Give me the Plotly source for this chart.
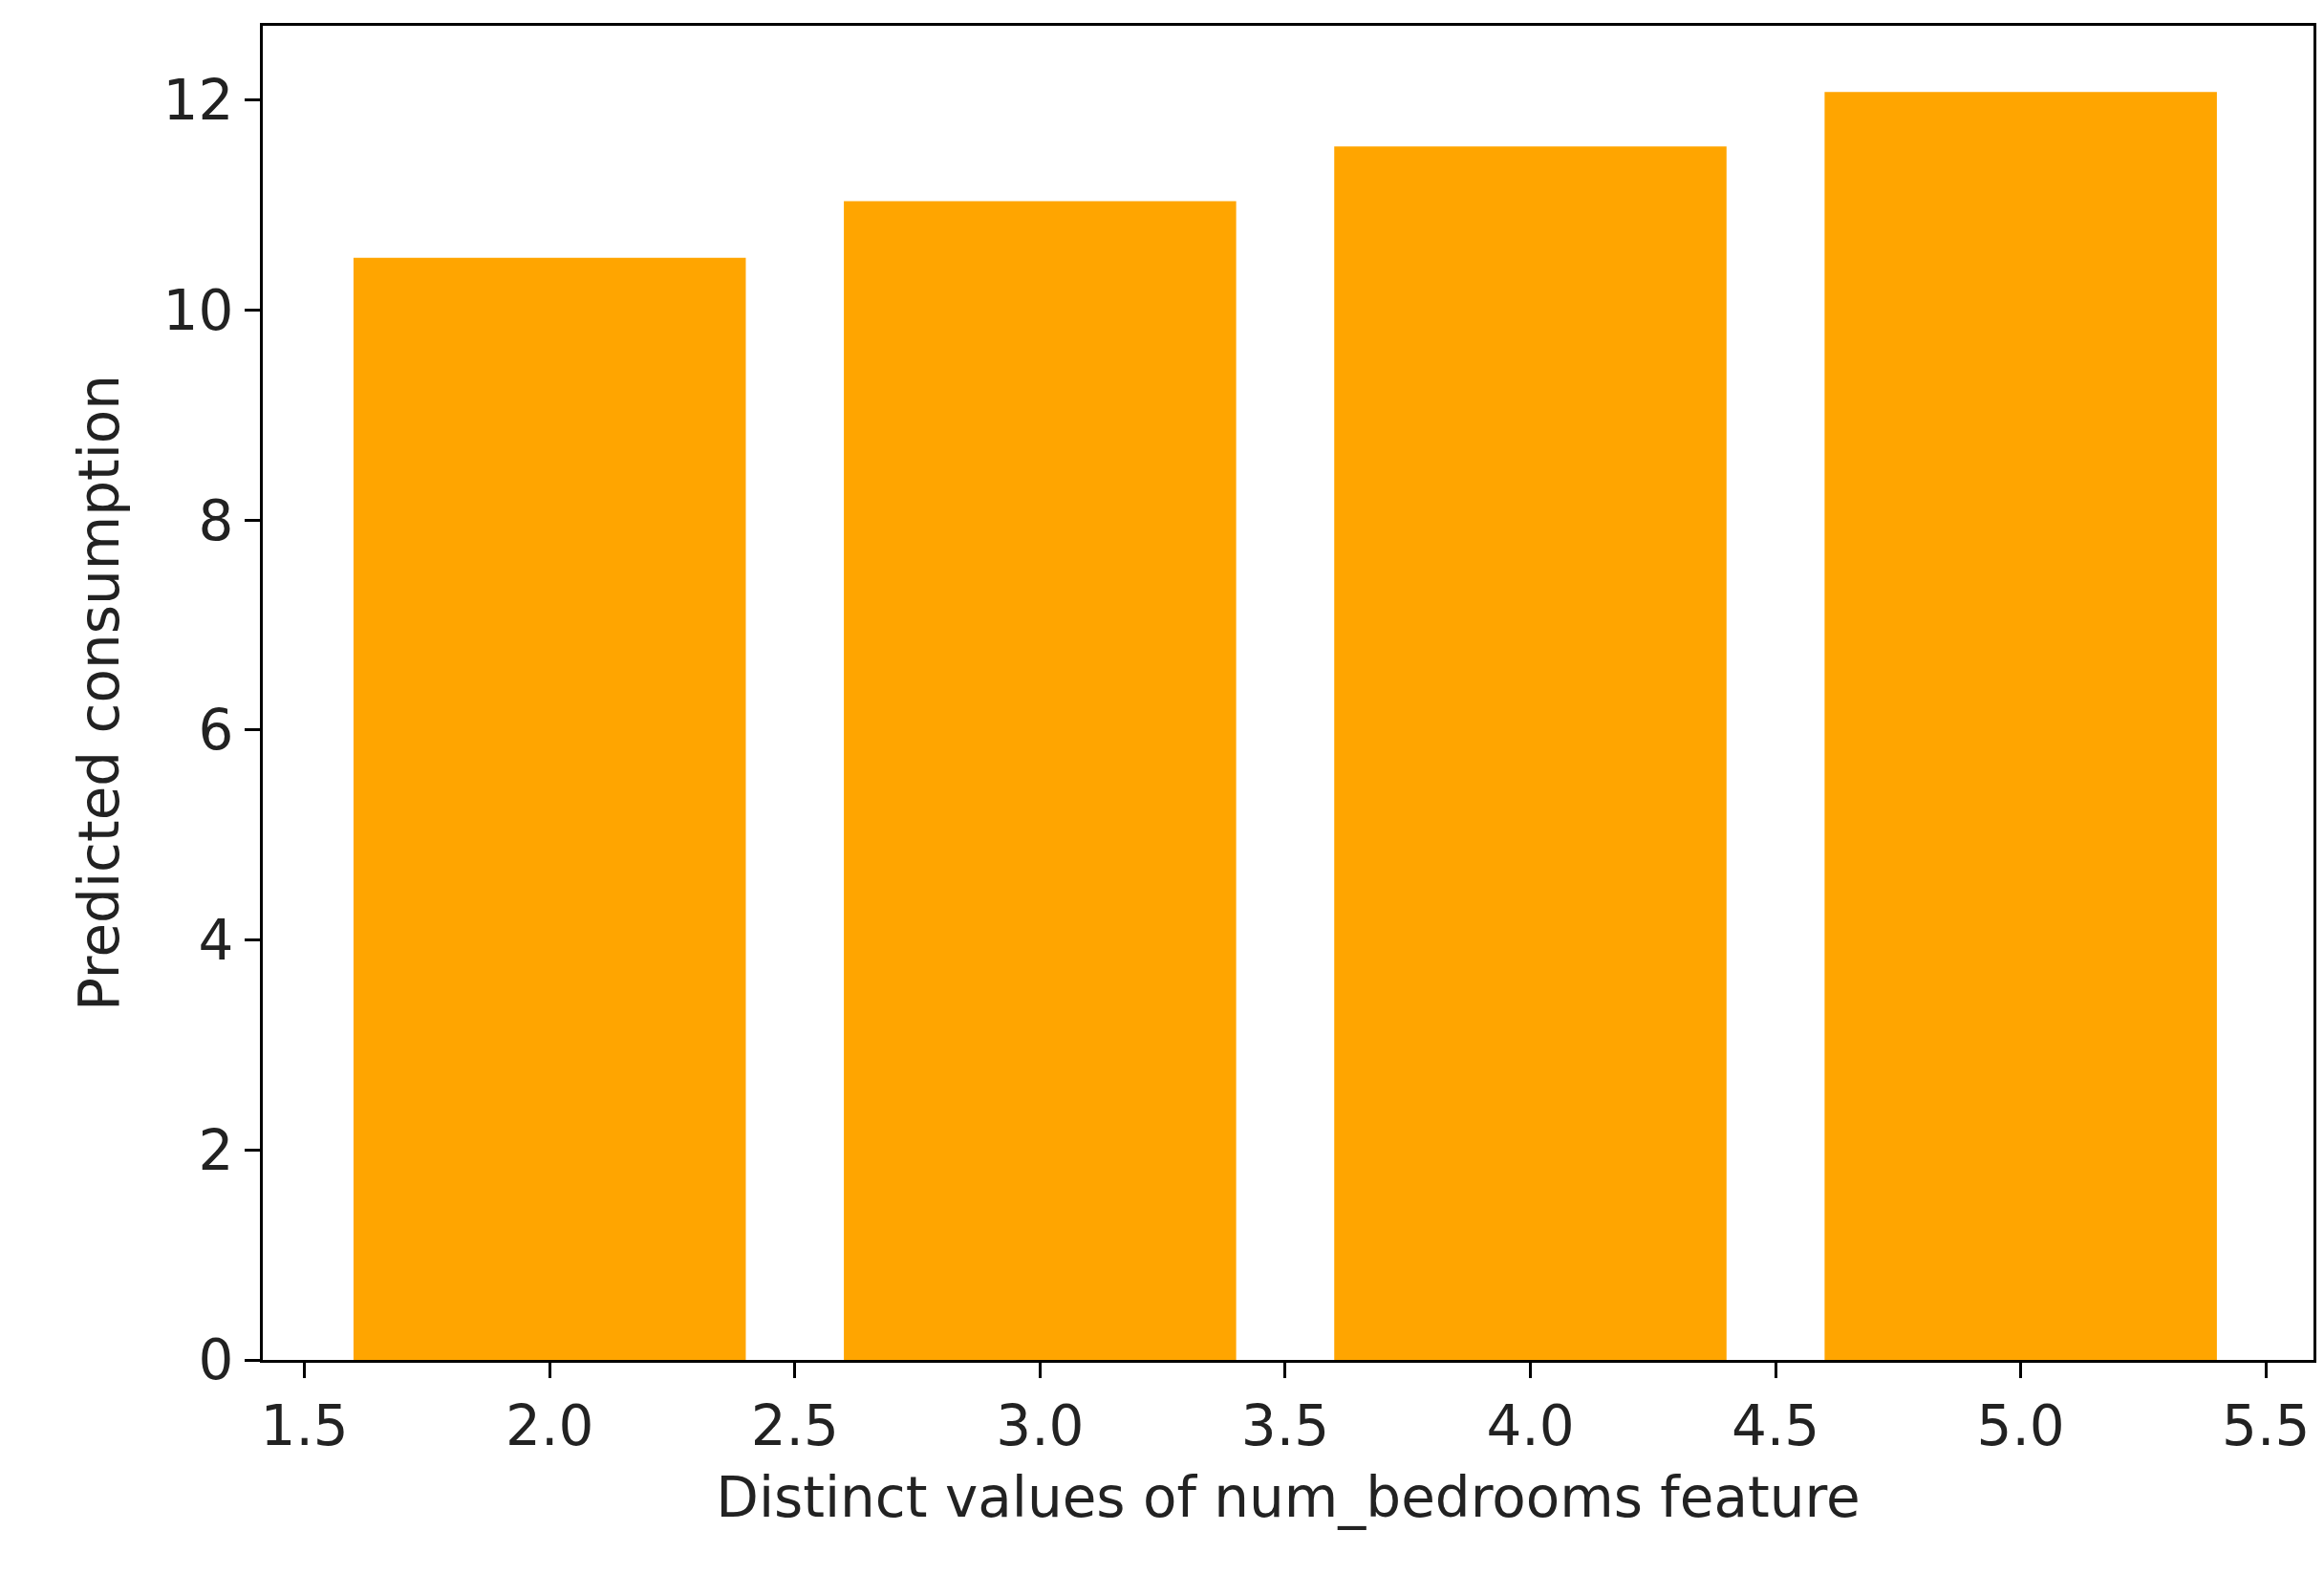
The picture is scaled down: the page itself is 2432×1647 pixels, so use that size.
import plotly.graph_objects as go

bedrooms = [2, 3, 4, 5]
consumption = [10.50, 11.04, 11.56, 12.08]
xticks = [1.5, 2.0, 2.5, 3.0, 3.5, 4.0, 4.5, 5.0, 5.5]
yticks = [0, 2, 4, 6, 8, 10, 12]

fig = go.Figure(go.Bar(x=bedrooms, y=consumption, width=0.8,
                       marker=dict(color="#FFA500", line=dict(width=0))))
ax = dict(showline=True, linecolor="black", linewidth=3, mirror=True,
          ticks="outside", ticklen=16, tickwidth=3, tickcolor="black",
          showgrid=False, zeroline=False,
          tickfont=dict(family="DejaVu Sans", size=58, color="#222"))
fig.update_xaxes(**ax, range=[1.415, 5.597], tickvals=xticks,
                 ticktext=[f"{v:.1f}" for v in xticks],
                 title=dict(text="Distinct values of num_bedrooms feature",
                            font=dict(family="DejaVu Sans", size=58, color="#222"), standoff=22))
fig.update_yaxes(**ax, range=[0, 12.71], tickvals=yticks,
                 title=dict(text="Predicted consumption",
                            font=dict(family="DejaVu Sans", size=58, color="#222"), standoff=28))
fig.update_layout(width=2432, height=1647, plot_bgcolor="white", paper_bgcolor="white",
                  margin=dict(l=267, r=19, t=19, b=232), showlegend=False)
fig.write_html("out.html")
